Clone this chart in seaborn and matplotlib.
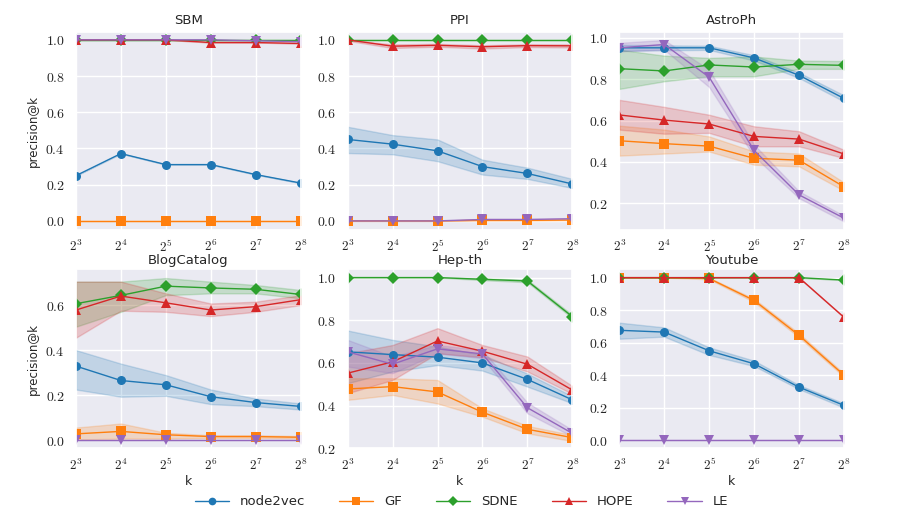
import numpy as np
import pandas as pd
import matplotlib
matplotlib.use("Agg")
import matplotlib.pyplot as plt
from matplotlib.ticker import FixedLocator, FuncFormatter
import seaborn as sns

K = [8, 16, 32, 64, 128, 256]
METHODS = ["node2vec", "GF", "SDNE", "HOPE", "LE"]
COLORS = ["#1f77b4", "#ff7f0e", "#2ca02c", "#d62728", "#9467bd"]
MARKERS = ["o", "s", "D", "^", "v"]
DATASETS = ["SBM", "PPI", "AstroPh", "BlogCatalog", "Hep-th", "Youtube"]

# centre values
sbm_mid = {
    "node2vec": [0.25, 0.372, 0.311, 0.311, 0.256, 0.209],
    "GF": [0.0, 0.0, 0.0, 0.0, 0.0, 0.0],
    "SDNE": [1.0, 1.0, 1.0, 1.0, 1.0, 1.0],
    "HOPE": [1.0, 1.0, 1.0, 0.985, 0.985, 0.98],
    "LE": [1.0, 1.0, 1.0, 1.0, 0.995, 0.99],
}
ppi_mid = {
    "node2vec": [0.45, 0.424, 0.387, 0.30, 0.262, 0.204],
    "GF": [0.0, 0.0, 0.0, 0.003, 0.003, 0.005],
    "SDNE": [1.0, 1.0, 1.0, 1.0, 1.0, 1.0],
    "HOPE": [1.0, 0.965, 0.97, 0.962, 0.968, 0.967],
    "LE": [0.0, 0.0, 0.0, 0.008, 0.008, 0.012],
}
astro_mid = {
    "node2vec": [0.952, 0.952, 0.952, 0.903, 0.819, 0.707],
    "GF": [0.502, 0.488, 0.476, 0.417, 0.408, 0.279],
    "SDNE": [0.851, 0.84, 0.869, 0.859, 0.872, 0.867],
    "HOPE": [0.627, 0.602, 0.583, 0.523, 0.51, 0.438],
    "LE": [0.952, 0.968, 0.81, 0.455, 0.24, 0.127],
}
blog_mid = {
    "node2vec": [0.329, 0.265, 0.246, 0.193, 0.167, 0.15],
    "GF": [0.028, 0.039, 0.024, 0.016, 0.016, 0.013],
    "SDNE": [0.606, 0.643, 0.684, 0.676, 0.67, 0.647],
    "HOPE": [0.578, 0.64, 0.61, 0.578, 0.593, 0.624],
    "LE": [0.002, 0.002, 0.002, 0.002, 0.002, 0.002],
}
hep_mid = {
    "node2vec": [0.652, 0.639, 0.627, 0.60, 0.523, 0.427],
    "GF": [0.478, 0.489, 0.464, 0.369, 0.289, 0.25],
    "SDNE": [1.0, 1.0, 1.0, 0.992, 0.984, 0.817],
    "HOPE": [0.552, 0.605, 0.703, 0.655, 0.594, 0.473],
    "LE": [0.652, 0.594, 0.666, 0.642, 0.39, 0.27],
}
yt_mid = {
    "node2vec": [0.676, 0.665, 0.55, 0.47, 0.326, 0.214],
    "GF": [1.0, 1.0, 0.995, 0.86, 0.645, 0.40],
    "SDNE": [1.0, 1.0, 1.0, 1.0, 1.0, 0.985],
    "HOPE": [1.0, 1.0, 1.0, 1.0, 1.0, 0.756],
    "LE": [0.0, 0.0, 0.0, 0.0, 0.0, 0.0],
}

# lower / upper edge of the shaded bands (missing -> no visible band)
sbm_lo, sbm_hi = {}, {}
ppi_lo = {
    "node2vec": [0.375, 0.368, 0.33, 0.256, 0.232, 0.182],
    "HOPE": [0.995, 0.955, 0.962, 0.952, 0.96, 0.958],
}
ppi_hi = {
    "node2vec": [0.52, 0.474, 0.45, 0.338, 0.294, 0.232],
    "HOPE": [1.0, 0.975, 0.978, 0.97, 0.976, 0.975],
}
astro_lo = {
    "node2vec": [0.937, 0.94, 0.942, 0.89, 0.806, 0.692],
    "GF": [0.43, 0.44, 0.45, 0.386, 0.378, 0.26],
    "SDNE": [0.753, 0.79, 0.814, 0.814, 0.85, 0.85],
    "HOPE": [0.556, 0.536, 0.54, 0.475, 0.475, 0.418],
    "LE": [0.935, 0.943, 0.762, 0.426, 0.224, 0.111],
}
astro_hi = {
    "node2vec": [0.967, 0.964, 0.962, 0.916, 0.832, 0.722],
    "GF": [0.575, 0.556, 0.523, 0.45, 0.44, 0.30],
    "SDNE": [0.943, 0.914, 0.903, 0.91, 0.89, 0.888],
    "HOPE": [0.70, 0.666, 0.628, 0.572, 0.548, 0.458],
    "LE": [0.976, 0.99, 0.846, 0.483, 0.257, 0.139],
}
blog_lo = {
    "node2vec": [0.225, 0.193, 0.197, 0.16, 0.151, 0.136],
    "GF": [0.003, 0.007, 0.007, 0.01, 0.01, 0.008],
    "SDNE": [0.504, 0.57, 0.644, 0.652, 0.652, 0.63],
    "HOPE": [0.455, 0.575, 0.57, 0.551, 0.57, 0.60],
}
blog_hi = {
    "node2vec": [0.40, 0.34, 0.289, 0.225, 0.185, 0.163],
    "GF": [0.056, 0.074, 0.033, 0.022, 0.022, 0.018],
    "SDNE": [0.704, 0.704, 0.72, 0.704, 0.689, 0.667],
    "HOPE": [0.704, 0.704, 0.652, 0.607, 0.615, 0.644],
}
hep_lo = {
    "node2vec": [0.505, 0.56, 0.59, 0.564, 0.489, 0.411],
    "GF": [0.427, 0.45, 0.41, 0.348, 0.27, 0.234],
    "SDNE": [1.0, 1.0, 1.0, 0.988, 0.978, 0.81],
    "HOPE": [0.458, 0.52, 0.645, 0.627, 0.56, 0.455],
    "LE": [0.583, 0.552, 0.645, 0.622, 0.364, 0.255],
}
hep_hi = {
    "node2vec": [0.752, 0.708, 0.677, 0.638, 0.55, 0.444],
    "GF": [0.528, 0.528, 0.52, 0.387, 0.305, 0.262],
    "SDNE": [1.0, 1.0, 1.0, 0.996, 0.99, 0.825],
    "HOPE": [0.645, 0.684, 0.763, 0.684, 0.63, 0.492],
    "LE": [0.708, 0.63, 0.684, 0.66, 0.414, 0.286],
}
yt_lo = {
    "node2vec": [0.624, 0.637, 0.524, 0.456, 0.314, 0.20],
    "GF": [1.0, 1.0, 0.99, 0.85, 0.633, 0.39],
}
yt_hi = {
    "node2vec": [0.723, 0.694, 0.571, 0.489, 0.339, 0.226],
    "GF": [1.0, 1.0, 1.0, 0.87, 0.657, 0.41],
}

MIDS = [sbm_mid, ppi_mid, astro_mid, blog_mid, hep_mid, yt_mid]
LOS = [sbm_lo, ppi_lo, astro_lo, blog_lo, hep_lo, yt_lo]
HIS = [sbm_hi, ppi_hi, astro_hi, blog_hi, hep_hi, yt_hi]

YLIMS = [(-0.05, 1.045), (-0.05, 1.045), (0.07, 1.03),
         (-0.036, 0.76), (0.2, 1.04), (-0.05, 1.053)]
YTICKS = [np.arange(0, 1.01, 0.2), np.arange(0, 1.01, 0.2), np.arange(0.2, 1.01, 0.2),
          np.arange(0, 0.61, 0.2), np.arange(0.2, 1.01, 0.2), np.arange(0, 1.01, 0.2)]

# three rows per point (lower, centre, upper): median gives the line,
# the full percentile interval gives the band
rows = []
for name, mid, lo, hi in zip(DATASETS, MIDS, LOS, HIS):
    for m in METHODS:
        for i, k in enumerate(K):
            c = mid[m][i]
            for v in (lo.get(m, mid[m])[i], c, hi.get(m, mid[m])[i]):
                rows.append((name, m, k, v))
df = pd.DataFrame(rows, columns=["dataset", "method", "k", "precision"])

sns.set_theme(style="darkgrid")
plt.rcParams["mathtext.fontset"] = "cm"

fig, axes = plt.subplots(
    2, 3, figsize=(8.99, 5.18), dpi=100,
    gridspec_kw=dict(height_ratios=[198, 179], left=0.0845, right=0.9388,
                     top=0.9388, bottom=0.1346, wspace=0.209, hspace=0.207))

handles, labels = None, None
for idx, (ax, name) in enumerate(zip(axes.flat, DATASETS)):
    sub = df[df["dataset"] == name]
    sns.lineplot(data=sub, x="k", y="precision", hue="method", style="method",
                 hue_order=METHODS, style_order=METHODS, palette=COLORS,
                 markers=MARKERS, dashes=False, estimator="median",
                 errorbar=("pi", 100), linewidth=1.0, markersize=6.5,
                 markeredgewidth=0, ax=ax, legend=(idx == 0))
    if idx == 0:
        handles, labels = ax.get_legend_handles_labels()
        ax.get_legend().remove()
    ax.set_xscale("log", base=2)
    ax.set_xlim(8, 256)
    ax.xaxis.set_major_locator(FixedLocator(K))
    ax.xaxis.set_minor_locator(FixedLocator([]))
    ax.xaxis.set_major_formatter(FuncFormatter(lambda v, p: r"$2^{%d}$" % round(np.log2(v))))
    ax.set_ylim(*YLIMS[idx])
    ax.set_yticks(YTICKS[idx])
    ax.yaxis.set_major_formatter(FuncFormatter(lambda v, p: r"$%.1f$" % v))
    ax.tick_params(axis="x", labelsize=9.5, pad=0.5)
    ax.tick_params(axis="y", labelsize=10, pad=2)
    ax.set_title(name, fontsize=9.5, pad=5.5 if idx < 3 else 3.5)
    ax.set_xlabel("k" if idx >= 3 else "", fontsize=9, labelpad=1.5)
    ax.set_ylabel("precision@k" if idx % 3 == 0 else "", fontsize=8.5)

fig.legend(handles, labels, loc="center", bbox_to_anchor=(0.513, 0.031), ncol=5,
           frameon=False, fontsize=9.5, handlelength=2.6, columnspacing=2.6,
           markerscale=0.85)

fig.savefig("out.png", dpi=100)
